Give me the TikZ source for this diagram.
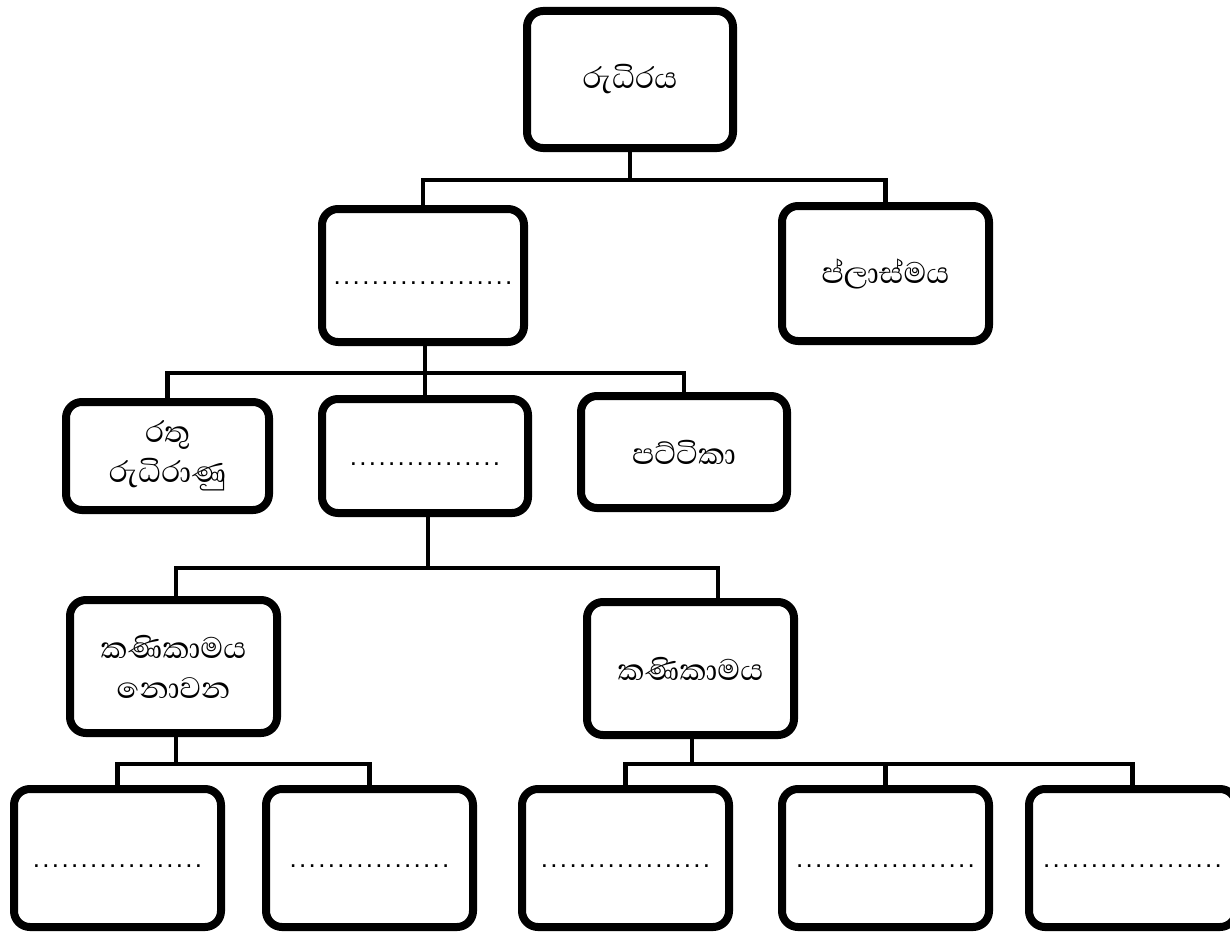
\documentclass[tikz,border=0pt]{standalone}
\usepackage{fontspec}
\newfontfamily\sinhalafnt[Script=Sinhala]{Abhaya Libre}
\newfontfamily\dotfont{Liberation Sans}
\usetikzlibrary{shadows}
\newcommand\blankdots[1]{\smash{\raisebox{-9pt}{\dotfont\fontsize{26}{28}\selectfont\foreach \i in {1,...,#1}{.\kern2.3pt}\kern-2.3pt}}}
\tikzset{
  box/.style={draw=black, line width=8pt, rounded corners=16pt, fill=white,
    align=center, inner sep=0pt,
    font=\sinhalafnt\fontsize{38}{40}\selectfont,
    drop shadow={shadow xshift=1.5pt, shadow yshift=-3pt, opacity=0.18}},
  conn/.style={draw=black, line width=4.8pt}
}
\begin{document}
\begin{tikzpicture}[x=1pt,y=-1pt]
\useasboundingbox (0,0) rectangle (1230,931);
\fill[white] (0,0) rectangle (1230,931);
% bus coordinates
\coordinate (j1) at (630,180);
\coordinate (j2) at (425,373);
\coordinate (j3) at (428,568);
\coordinate (j3r) at (718,568);
\coordinate (j4) at (176,764);
\coordinate (j5) at (692,764);
\node[box, minimum width=206pt, minimum height=137pt] (top) at (630,79.5) {රුධිරය};
\node[box, minimum width=202pt, minimum height=133pt] (cells) at (423,275.5) {\blankdots{19}};
\node[box, minimum width=207pt, minimum height=135pt] (plasma) at (885.5,273.5) {ප්ලාස්මය};
\node[box, minimum width=203pt, minimum height=108pt] (rbc) at (167.5,456) {\rule{0pt}{20pt}රතු\\රුධිරාණු};
\node[box, minimum width=206pt, minimum height=114pt] (wbc) at (425,456) {\blankdots{16}};
\node[box, minimum width=206pt, minimum height=112pt] (plt) at (684,452) {පට්ටිකා};
\node[box, minimum width=207pt, minimum height=133pt] (agran) at (173.5,666.5) {කණිකාමය\\නොවන};
\node[box, minimum width=207pt, minimum height=133pt] (gran) at (690.5,668.5) {කණිකාමය};
\node[box, minimum width=207pt, minimum height=138pt] (a1) at (117.5,858) {\blankdots{18}};
\node[box, minimum width=207pt, minimum height=138pt] (a2) at (369.5,858) {\blankdots{17}};
\node[box, minimum width=207pt, minimum height=138pt] (g1) at (625.5,858) {\blankdots{18}};
\node[box, minimum width=207pt, minimum height=138pt] (g2) at (885.5,858) {\blankdots{19}};
\node[box, minimum width=207pt, minimum height=138pt] (g3) at (1132.5,858) {\blankdots{19}};
% level 1
\draw[conn] (top.south) -- (top.south |- j1);
\draw[conn] (cells.north) |- (plasma.north |- j1) -- (plasma.north);
% level 2
\draw[conn] (cells.south -| j2) -- (wbc.north -| j2);
\draw[conn] (rbc.north) |- (plt.north |- j2) -- (plt.north);
% level 3
\draw[conn] (wbc.south -| j3) -- (j3);
\draw[conn] (agran.north -| j4) |- (j3r) -- (gran.north -| j3r);
% level 4
\draw[conn] (agran.south -| j4) -- (j4);
\draw[conn] (a1.north) |- (a2.north |- j4) -- (a2.north);
\draw[conn] (gran.south -| j5) -- (j5);
\draw[conn] (g1.north) |- (g3.north |- j5) -- (g3.north);
\draw[conn] (g2.north |- j5) -- (g2.north);
\end{tikzpicture}
\end{document}
